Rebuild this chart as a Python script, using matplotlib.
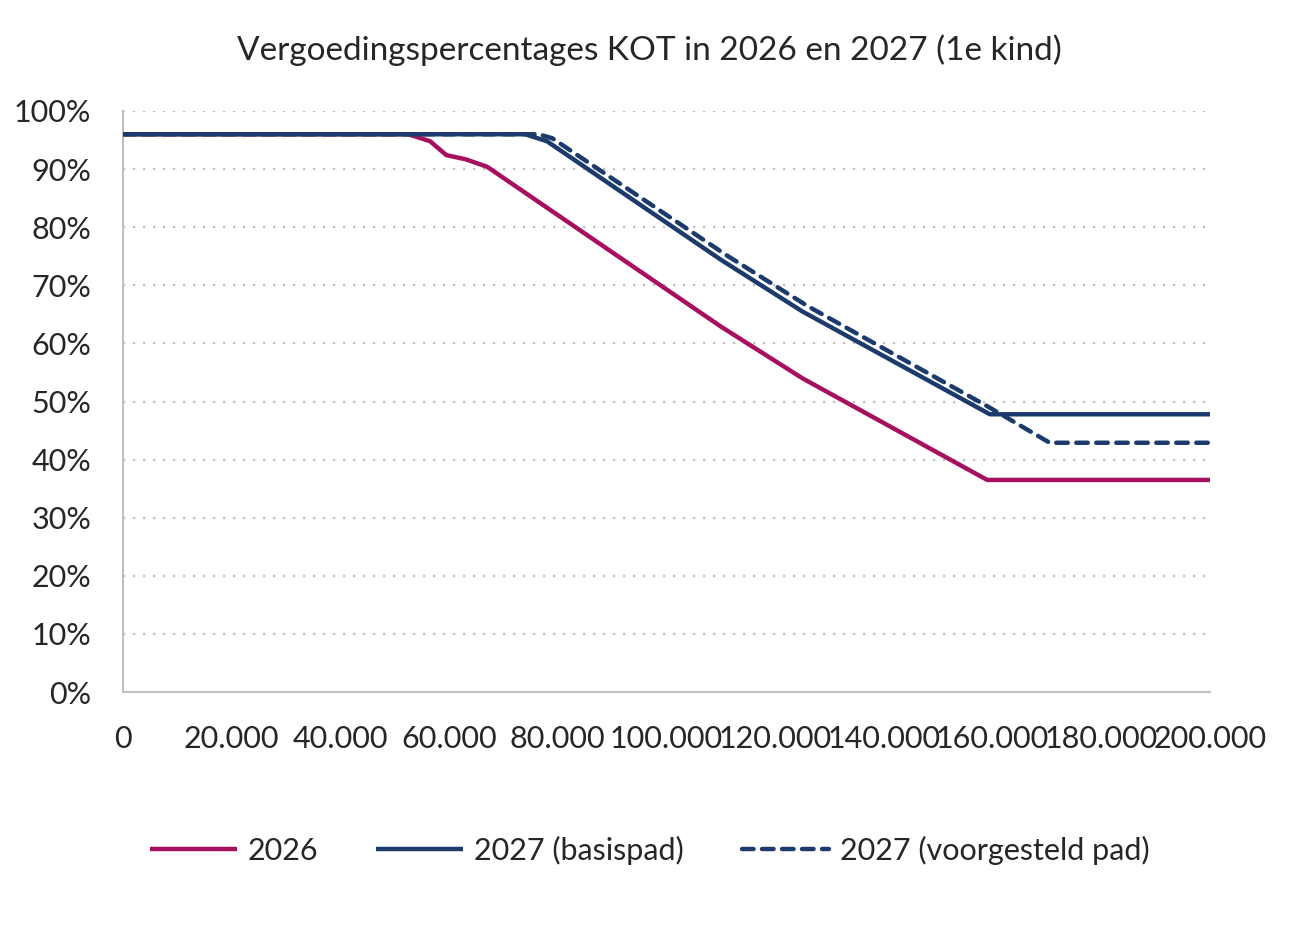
import matplotlib
matplotlib.use("Agg")
import matplotlib.pyplot as plt
from matplotlib.ticker import FuncFormatter, MultipleLocator

plt.rcParams['font.family'] = ['Lato', 'DejaVu Sans']

# Data (income in euro, reimbursement percentage)
x_2026 = [0, 52500, 56500, 59500, 63000, 67000, 110000, 125000, 159000, 200000]
y_2026 = [96, 96, 94.8, 92.4, 91.7, 90.4, 62.9, 54.0, 36.5, 36.5]

x_basis = [0, 74000, 78000, 110000, 125000, 159500, 200000]
y_basis = [96, 96, 94.8, 74.4, 65.5, 47.8, 47.8]

x_voorg = [0, 76500, 79000, 111000, 126000, 159000, 170500, 200000]
y_voorg = [96, 96, 95.3, 75.2, 66.4, 49.2, 42.9, 42.9]

labels = ["2026", "2027 (basispad)", "2027 (voorgesteld pad)"]
title = "Vergoedingspercentages KOT in 2026 en 2027 (1e kind)"

red = "#A6105E"
blue = "#1C3B6C"
txt = "#262626"

fig = plt.figure(figsize=(12.99, 9.25), dpi=100)
ax = fig.add_axes([123/1299, 1-692/925, (1210-123)/1299, (692-111)/925])

ax.plot(x_2026, y_2026, color=red, lw=3.2, solid_capstyle='butt', label=labels[0], zorder=3)
ax.plot(x_basis, y_basis, color=blue, lw=3.2, solid_capstyle='butt', label=labels[1], zorder=4)
ax.plot(x_voorg, y_voorg, color=blue, lw=3.2, linestyle=(0, (2.6, 1.9)), dash_capstyle='round',
        label=labels[2], zorder=5)

ax.set_xlim(0, 200000)
ax.set_ylim(0, 100)
ax.xaxis.set_major_locator(MultipleLocator(20000))
ax.yaxis.set_major_locator(MultipleLocator(10))
ax.xaxis.set_major_formatter(FuncFormatter(lambda v, p: "0" if v == 0 else f"{int(v):,}".replace(",", ".")))
ax.yaxis.set_major_formatter(FuncFormatter(lambda v, p: f"{int(v)}%"))

ax.grid(axis='y', color='#BFBFBF', linestyle=(0, (1, 3.5)), lw=1.6)
ax.set_axisbelow(True)
for s in ['top', 'right']:
    ax.spines[s].set_visible(False)
for s in ['left', 'bottom']:
    ax.spines[s].set_color('#BFBFBF')
    ax.spines[s].set_linewidth(1.5)

ax.tick_params(axis='both', length=0, labelsize=22, labelcolor=txt)
ax.tick_params(axis='x', pad=24)
ax.tick_params(axis='y', pad=23)

fig.text(0.5, 1-50/925, title, ha='center', va='center', fontsize=24, color=txt)

leg = fig.legend(loc='center', bbox_to_anchor=(0.5, 1-850/925), ncol=3, frameon=False,
                 fontsize=22, handlelength=2.85, columnspacing=1.9, handletextpad=0.35,
                 labelcolor=txt)

fig.savefig("out.png", dpi=100)
